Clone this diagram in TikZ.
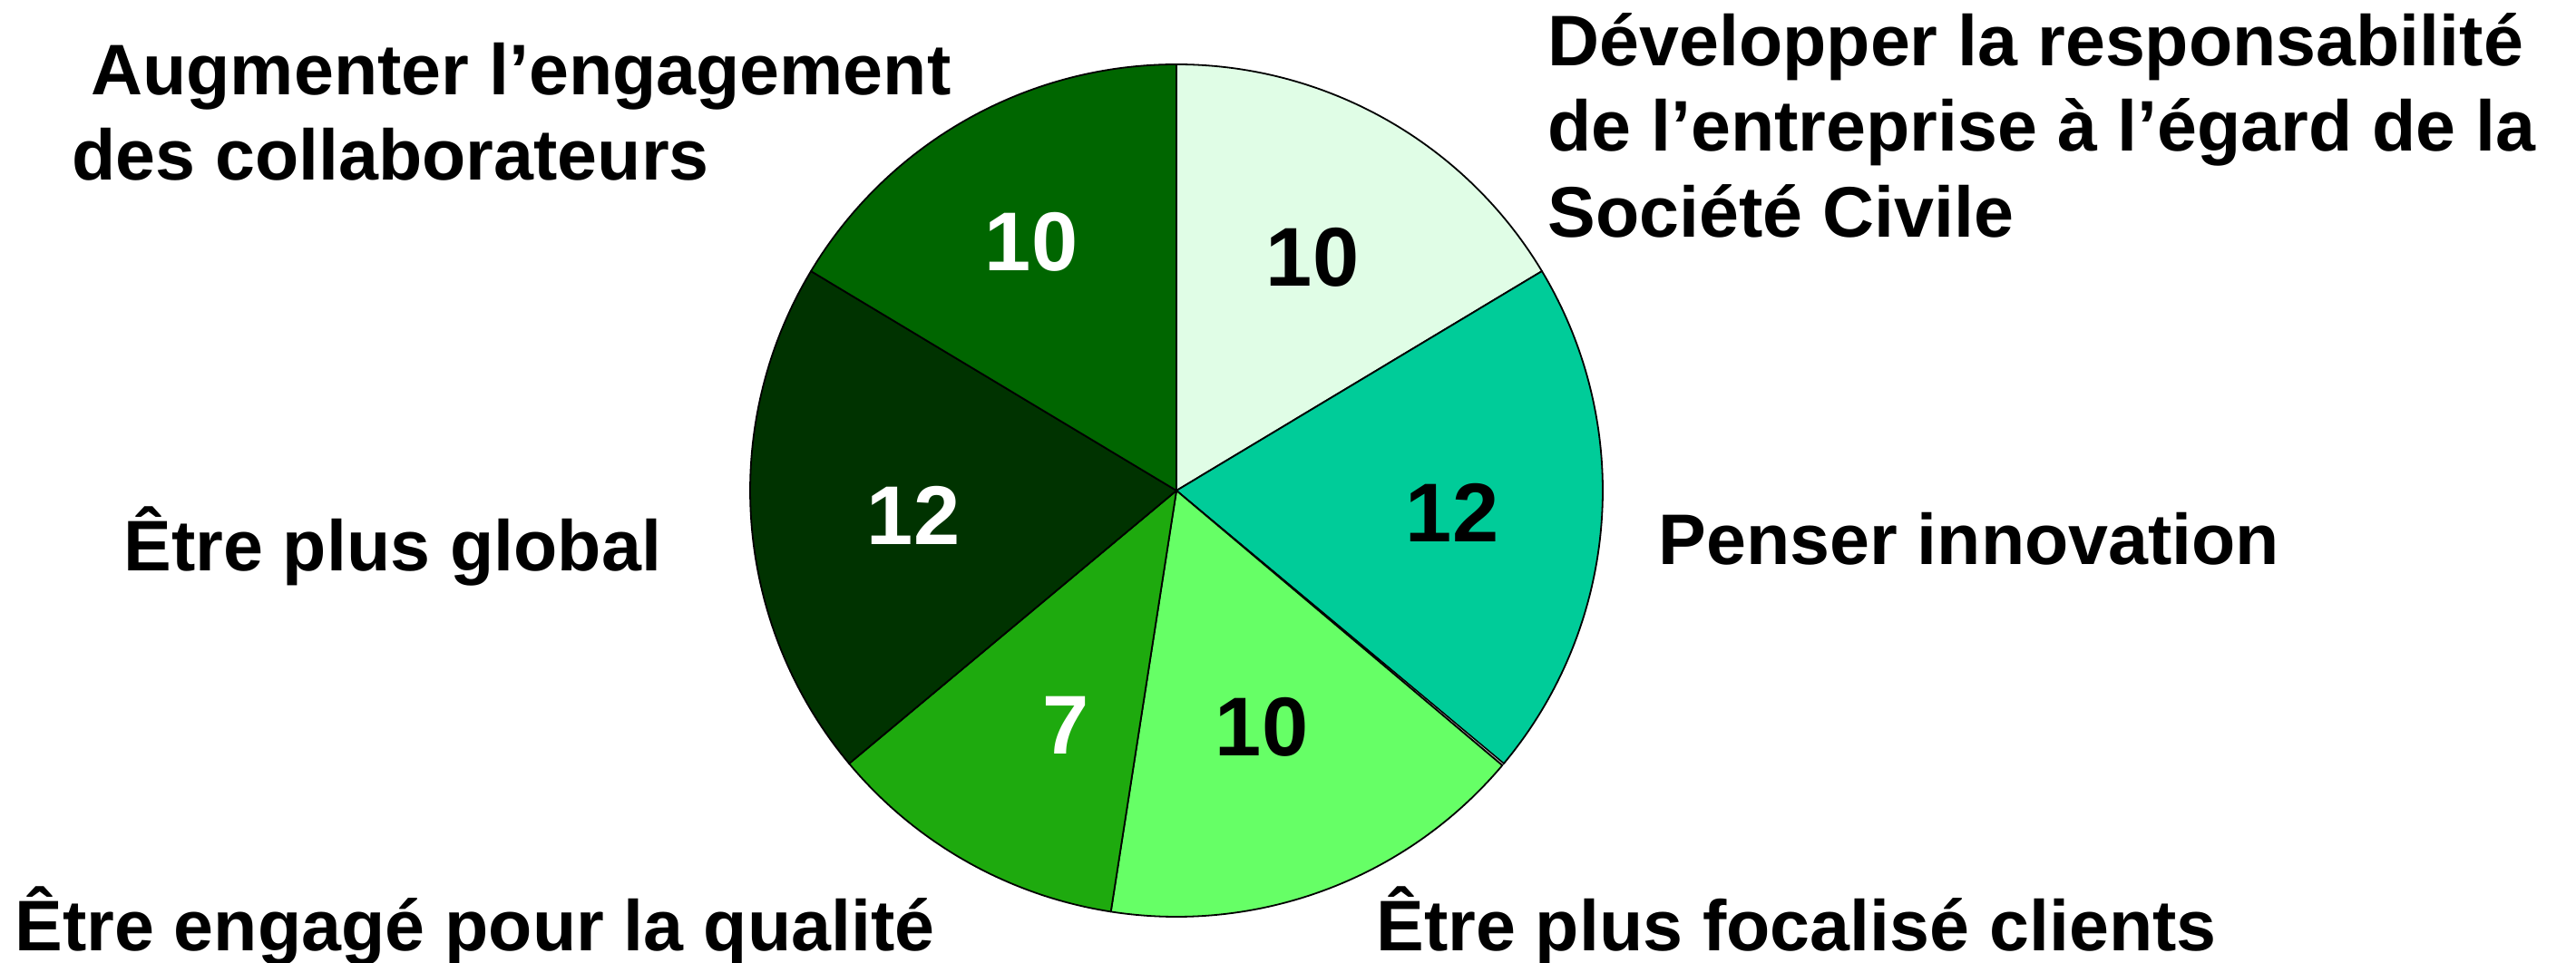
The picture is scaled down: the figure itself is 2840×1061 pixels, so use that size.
\documentclass[tikz,border=0pt]{standalone}
\usepackage{fontspec}
\setmainfont{Liberation Sans}
\definecolor{cSoc}{HTML}{E0FDE6}
\definecolor{cInn}{HTML}{00CC99}
\definecolor{cCli}{HTML}{66FF66}
\definecolor{cQua}{HTML}{1EAA0E}
\definecolor{cGlo}{HTML}{003300}
\definecolor{cEng}{HTML}{006600}
\definecolor{cGap}{HTML}{C8C8C8}
\tikzset{
  slice/.style={draw=black, line width=0.9pt, line join=round},
  lbl/.style={anchor=base west, inner sep=0pt, font=\fontsize{39.5}{47}\selectfont\bfseries},
  num/.style={anchor=center, inner sep=0pt, font=\fontsize{46}{50}\selectfont\bfseries},
}
\begin{document}
\begin{tikzpicture}[x=0.5pt,y=0.5pt]
\useasboundingbox (0,0) rectangle (2840,1061);
\coordinate (c) at (1297,520);
\def\R{470}
% slices
\filldraw[slice, fill=cSoc] (c) -- ++(90:\R) arc[start angle=90, end angle=30.984, radius=\R] -- cycle;
\filldraw[slice, fill=cInn] (c) -- ++(30.984:\R) arc[start angle=30.984, end angle=-39.836, radius=\R] -- cycle;
\filldraw[slice, fill=cGap, line width=0.6pt] (c) -- ++(-39.836:\R) arc[start angle=-39.836, end angle=-40.15, radius=\R] -- cycle;
\filldraw[slice, fill=cCli] (c) -- ++(-40.15:\R) arc[start angle=-40.15, end angle=-98.852, radius=\R] -- cycle;
\filldraw[slice, fill=cQua] (c) -- ++(-98.852:\R) arc[start angle=-98.852, end angle=-140.164, radius=\R] -- cycle;
\filldraw[slice, fill=cGlo] (c) -- ++(-140.164:\R) arc[start angle=-140.164, end angle=-210.984, radius=\R] -- cycle;
\filldraw[slice, fill=cEng] (c) -- ++(149.016:\R) arc[start angle=149.016, end angle=90, radius=\R] -- cycle;
% values
\node[num, text=white] (vEng) at (1137,794) {10};
\node[num, text=black] (vSoc) at (1447,777) {10};
\node[num, text=white] (vGlo) at (1007,493) {12};
\node[num, text=black] (vInn) at (1601,496) {12};
\node[num, text=white] (vQua) at (1175,261) {7};
\node[num, text=black] (vCli) at (1391,259) {10};
% labels
\node[lbl] (tEngA) at (100,956) {Augmenter l’engagement};
\node[lbl] (tEngB) at (79,862) {des collaborateurs};
\node[lbl] (tSocA) at (1706,988) {Développer la responsabilité};
\node[lbl] (tSocB) at (1706,894) {de l’entreprise à l’égard de la};
\node[lbl] (tSocC) at (1706,799) {Société Civile};
\node[lbl] (tInn) at (1828,438) {Penser innovation};
\node[lbl] (tGlo) at (136,431) {Être plus global};
\node[lbl] (tQua) at (16,13) {Être engagé pour la qualité};
\node[lbl] (tCli) at (1517,13) {Être plus focalisé clients};
\end{tikzpicture}
\end{document}
